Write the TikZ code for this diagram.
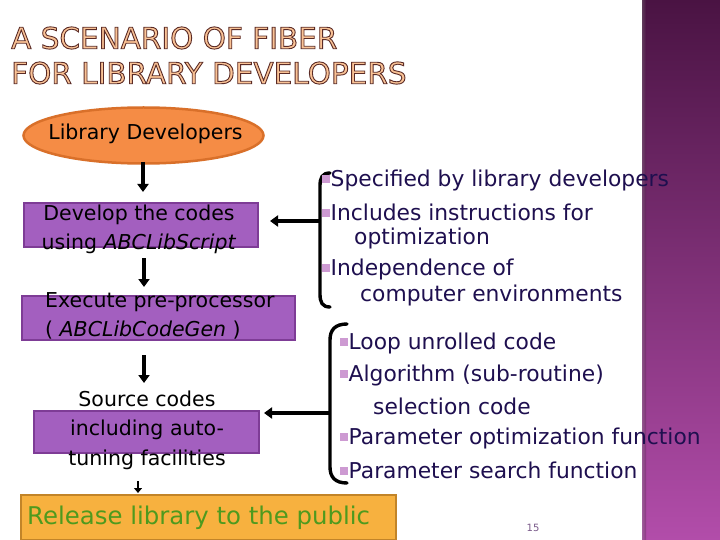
\documentclass[tikz,border=0pt]{standalone}
\usepackage{fontspec}
\setmainfont{DejaVu Sans}
\usetikzlibrary{shapes.geometric,arrows.meta,calc}
\definecolor{boxpurple}{HTML}{A35FBF}
\definecolor{boxpurpleb}{HTML}{7E3C96}
\definecolor{ellorange}{HTML}{F58C45}
\definecolor{ellorangeb}{HTML}{D9702A}
\definecolor{relorange}{HTML}{F7B13F}
\definecolor{relorangeb}{HTML}{C28428}
\definecolor{relgreen}{HTML}{4E9A1E}
\definecolor{navy}{HTML}{1E0F4F}
\definecolor{bulletc}{HTML}{CD9AD2}
\definecolor{titlefill}{HTML}{FAC396}
\definecolor{titleline}{HTML}{5B2B26}
\definecolor{bandtop}{HTML}{4A1343}
\definecolor{bandbot}{HTML}{B24DAA}
\definecolor{pagenum}{HTML}{7A5A8A}
\newcommand{\bul}{{\color{bulletc}\raisebox{3.5pt}{\rule{7.5pt}{7.5pt}}}\hspace{1pt}}
\newcommand{\outlinetext}[1]{{\color{titlefill}\special{pdf:literal direct q 2 Tr 0.9 w 0.357 0.169 0.149 RG}#1\special{pdf:literal direct Q}}}
\begin{document}
\begin{tikzpicture}[x=1pt,y=-1pt,
  txt/.style={font=\fontsize{20.5}{29}\selectfont, text=black, inner sep=0pt, align=center},
  btxt/.style={font=\fontsize{21.8}{26}\selectfont, text=navy, inner sep=0pt, anchor=west, align=left},
  pbox/.style={draw=boxpurpleb, line width=1.5pt, fill=boxpurple, rectangle, inner sep=0pt},
  arr/.style={line width=3.2pt, -{Triangle[width=11pt,length=8pt]}},
  brk/.style={line width=3.4pt, line cap=round}]
\useasboundingbox (0,0) rectangle (720,540);
\fill[white] (0,0) rectangle (720,540);
% right band
\shade[top color=bandtop, bottom color=bandbot] (642,0) rectangle (720,540);
\shade[left color=black!50, right color=bandtop, opacity=0.35] (642,0) rectangle (646,540);
% title
\node[anchor=west, inner sep=0pt, font=\fontsize{29.5}{30}\selectfont] (t1) at (11,38)
  {\outlinetext{A SCENARIO OF FIBER}};
\node[anchor=west, inner sep=0pt, font=\fontsize{29.5}{30}\selectfont] (t2) at (11,73)
  {\outlinetext{FOR LIBRARY DEVELOPERS}};
% ellipse
\node[ellipse, draw=ellorangeb, line width=2.5pt, fill=ellorange, minimum width=240pt, minimum height=56pt, inner sep=0pt] (ell) at (143.5,135.5) {};
\node[txt] (ellt) at (145.5,134) {Library Developers};
% boxes
\node[pbox, minimum width=234pt, minimum height=44pt] (b1) at (141,225) {};
\node[txt] (b1t) at (139,229) {Develop the codes\\using \textit{ABCLibScript}};
\node[pbox, minimum width=273pt, minimum height=44pt] (b2) at (158.5,318) {};
\node[txt, align=left, anchor=north west] (b2t) at (45,292) {Execute pre-processor\\( \textit{ABCLibCodeGen} )};
\node[pbox, minimum width=225pt, minimum height=42pt] (b3) at (146.5,432) {};
\node[txt, font=\fontsize{20.5}{29.5}\selectfont] (b3t) at (147,430) {Source codes\\including auto-\\tuning facilities};
\node[draw=relorangeb, line width=2pt, fill=relorange, minimum width=375pt, minimum height=45pt, inner sep=0pt] (b4) at (208,517) {};
\node[anchor=west, inner sep=0pt, text=relgreen, font=\fontsize{24.4}{25}\selectfont] (b4t) at (27,518) {Release library to the public};
% connector end points
\coordinate (a1s) at (143,162); \coordinate (a1e) at (143,192);
\coordinate (a2s) at (144,258); \coordinate (a2e) at (144,287);
\coordinate (a3s) at (144,355); \coordinate (a3e) at (144,383);
\coordinate (a4s) at (138,481); \coordinate (a4e) at (138,493);
% vertical arrows
\draw[arr] (a1s) -- (a1e);
\draw[arr] (a2s) -- (a2e);
\draw[arr] (a3s) -- (a3e);
\draw[line width=2pt, -{Triangle[width=8pt,length=5pt]}] (a4s) -- (a4e);
% brackets
\coordinate (k1t) at (330,173);
\coordinate (k1b) at (330,307);
\draw[brk] (k1t) .. controls (322,173) and (320,178) .. (320,186) -- (320,294) .. controls (320,302) and (322,307) .. (k1b);
\coordinate (k1m) at (320,221);
\coordinate (h1e) at (270,221);
\draw[arr] (k1m) -- (h1e);
\coordinate (k2t) at (347,324);
\coordinate (k2b) at (347,483);
\draw[brk] (k2t) .. controls (335,324) and (330,330) .. (330,340) -- (330,467) .. controls (330,477) and (335,483) .. (k2b);
\coordinate (k2m) at (330,413);
\coordinate (h2e) at (264,413);
\draw[arr] (k2m) -- (h2e);
% bullet lists
\node[btxt] (l1) at (322,180) {\bul Specified by library developers};
\node[btxt] (l2) at (322,212) {\bul Includes instructions for};
\node[btxt] (l3) at (354,238) {optimization};
\node[btxt] (l4) at (322,269) {\bul Independence of};
\node[btxt] (l5) at (360,295) {computer environments};
\node[btxt] (m1) at (340,343) {\bul Loop unrolled code};
\node[btxt] (m2) at (340,375) {\bul Algorithm (sub-routine)};
\node[btxt] (m3) at (373,406) {selection code};
\node[btxt] (m4) at (340,438) {\bul Parameter optimization function};
\node[btxt] (m5) at (340,470) {\bul Parameter search function};
% page number
\node[text=pagenum, font=\fontsize{10}{10}\selectfont, inner sep=0pt] (pn) at (533,528) {15};
\end{tikzpicture}
\end{document}
